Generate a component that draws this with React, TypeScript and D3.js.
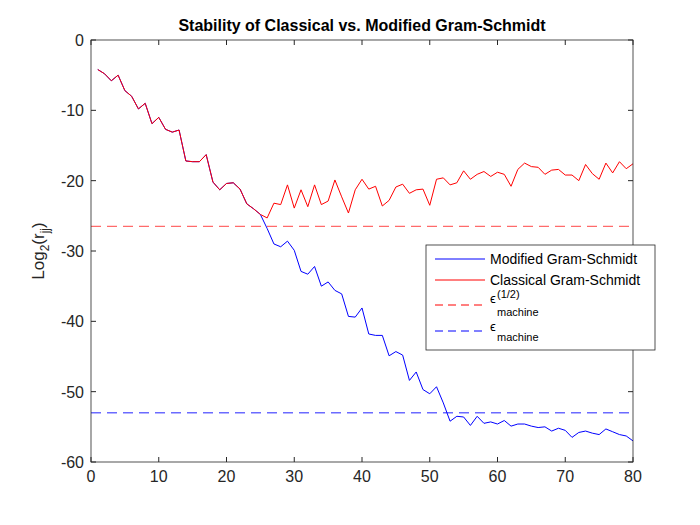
import React from 'react';
import * as d3 from 'd3';

const classical = [-4.2, -4.8, -5.8, -5.0, -7.2, -8.0, -9.8, -9.0, -11.9, -11.0, -12.7, -13.1, -12.8, -17.2, -17.3, -17.3, -16.3, -20.2, -21.3, -20.4,
  -20.3, -21.2, -23.3, -24.0, -24.8, -25.3, -23.2, -23.4, -20.6, -23.9, -21.3, -23.7, -20.6, -23.4, -22.9, -19.9, -22.3, -24.6, -21.3, -19.8,
  -21.2, -20.8, -23.6, -22.8, -20.9, -20.5, -21.8, -21.3, -21.2, -23.5, -19.8, -19.6, -20.6, -20.3, -18.6, -19.8, -19.1, -18.7, -19.4, -18.8,
  -19.1, -20.8, -18.4, -17.5, -18.0, -18.1, -19.1, -18.5, -18.4, -19.2, -19.2, -20.0, -17.7, -19.0, -19.8, -17.5, -18.9, -17.3, -18.3, -17.6];
const modifiedTail = [-24.8, -26.8, -29.0, -29.4, -28.6, -29.9, -32.9, -33.3, -32.2, -35.0, -34.4, -35.6, -36.1, -39.3, -39.4, -38.1,
  -41.8, -42.0, -42.0, -44.9, -44.3, -44.8, -48.4, -47.2, -49.7, -50.3, -49.3, -51.6, -54.2, -53.5, -53.6, -54.8, -53.5, -54.5, -54.3, -54.6,
  -54.1, -54.9, -54.6, -54.6, -54.9, -55.1, -55.0, -55.6, -55.2, -55.5, -56.5, -55.8, -55.6, -55.9, -56.1, -55.3, -55.7, -56.1, -56.3, -57.0];
const modified = [...classical.slice(0, 24), ...modifiedTail];
const epsHalf = -26.5;
const eps = -53;
const xTicks = [0, 10, 20, 30, 40, 50, 60, 70, 80];
const yTicks = [0, -10, -20, -30, -40, -50, -60];

const L = 91, R = 633, T = 40, B = 462;

export default function App() {
  const x = d3.scaleLinear().domain([0, 80]).range([L, R]);
  const y = d3.scaleLinear().domain([-60, 0]).range([B, T]);
  const line = d3.line<number>().x((_, i) => x(i + 1)).y(d => y(d));
  const font = 'Arial, "Liberation Sans", sans-serif';
  const lx = 426, ly = 245;
  return (
    <svg width={700} height={525} style={{ position: 'absolute', left: 0, top: 0, background: '#fff' }} fontFamily={font}>
      <rect x={0} y={0} width={700} height={525} fill="#fff" />
      <line x1={L} x2={R} y1={y(epsHalf)} y2={y(epsHalf)} stroke="#ff6b6b" strokeWidth={1.3} strokeDasharray="10,6" />
      <line x1={L} x2={R} y1={y(eps)} y2={y(eps)} stroke="#6b6bff" strokeWidth={1.3} strokeDasharray="10,6" />
      <path d={line(modified)!} fill="none" stroke="#0000ff" strokeWidth={1} />
      <path d={line(classical)!} fill="none" stroke="#ff0000" strokeWidth={1} />
      <rect x={L} y={T} width={R - L} height={B - T} fill="none" stroke="#262626" strokeWidth={0.8} />
      {xTicks.map(t => (
        <g key={'x' + t}>
          <line x1={x(t)} x2={x(t)} y1={B} y2={B - 5} stroke="#262626" />
          <line x1={x(t)} x2={x(t)} y1={T} y2={T + 5} stroke="#262626" />
          <text x={x(t)} y={B + 20} textAnchor="middle" fontSize={16} fill="#262626">{t}</text>
        </g>
      ))}
      {yTicks.map(t => (
        <g key={'y' + t}>
          <line x1={L} x2={L + 5} y1={y(t)} y2={y(t)} stroke="#262626" />
          <line x1={R} x2={R - 5} y1={y(t)} y2={y(t)} stroke="#262626" />
          <text x={L - 7} y={y(t) + 6} textAnchor="end" fontSize={16} fill="#262626">{t}</text>
        </g>
      ))}
      <text x={(L + R) / 2} y={31} textAnchor="middle" fontSize={16} fontWeight="bold" fill="#000">Stability of Classical vs. Modified Gram-Schmidt</text>
      <text transform={`translate(44,${(T + B) / 2}) rotate(-90)`} textAnchor="middle" fontSize={17} fill="#262626">
        Log<tspan dy={5} fontSize={12}>2</tspan><tspan dy={-5}>(r</tspan><tspan dy={5} fontSize={12}>jj</tspan><tspan dy={-5}>)</tspan>
      </text>
      <g>
        <rect x={lx} y={ly} width={229} height={105} fill="#fff" stroke="#262626" strokeWidth={0.8} />
        <line x1={lx + 9} x2={lx + 59} y1={ly + 14} y2={ly + 14} stroke="#0000ff" />
        <text x={lx + 64} y={ly + 19} fontSize={14} fill="#000">Modified Gram-Schmidt</text>
        <line x1={lx + 9} x2={lx + 59} y1={ly + 35} y2={ly + 35} stroke="#ff0000" />
        <text x={lx + 64} y={ly + 40} fontSize={14} fill="#000">Classical Gram-Schmidt</text>
        <line x1={lx + 9} x2={lx + 59} y1={ly + 60} y2={ly + 60} stroke="#ff0000" strokeDasharray="8,5" />
        <text x={lx + 64} y={ly + 58} fontSize={13} fill="#000">ϵ</text>
        <text x={lx + 71} y={ly + 53} fontSize={11} fill="#000">(1/2)</text>
        <text x={lx + 71} y={ly + 71} fontSize={11} fill="#000">machine</text>
        <line x1={lx + 9} x2={lx + 59} y1={ly + 86} y2={ly + 86} stroke="#0000ff" strokeDasharray="8,5" />
        <text x={lx + 64} y={ly + 86} fontSize={13} fill="#000">ϵ</text>
        <text x={lx + 71} y={ly + 96} fontSize={11} fill="#000">machine</text>
      </g>
    </svg>
  );
}
